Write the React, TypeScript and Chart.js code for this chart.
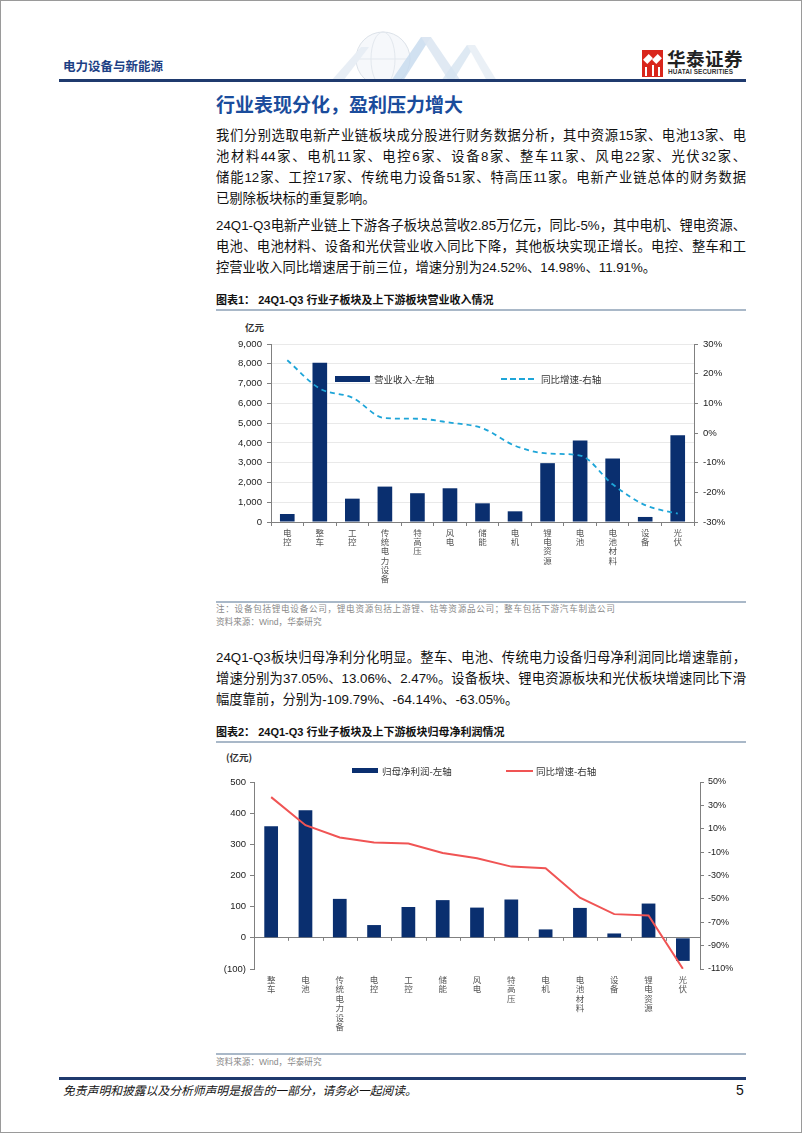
import React, { useEffect, useRef } from 'react';
import { Chart, registerables } from 'chart.js';

Chart.register(...registerables);

// ---------- Data: chart 1 (营业收入) ----------
const revCategories = ['电控', '整车', '工控', '传统电力设备', '特高压', '风电', '储能', '电机', '锂电资源', '电池', '电池材料', '设备', '光伏'];
const revValues = [405, 8050, 1180, 1790, 1455, 1705, 945, 540, 2975, 4120, 3210, 255, 4390];
const revGrowth = [24.52, 14.98, 11.91, 5.0, 4.8, 3.5, 1.6, -4.3, -6.9, -7.6, -17.3, -24.3, -27.2];
const revLeftTicks = [0, 1000, 2000, 3000, 4000, 5000, 6000, 7000, 8000, 9000];
const revRightTicks = [-30, -20, -10, 0, 10, 20, 30];
const revBarLabel = '营业收入-左轴';
const revLineLabel = '同比增速-右轴';

// ---------- Data: chart 2 (归母净利润) ----------
const profitCategories = ['整车', '电池', '传统电力设备', '电控', '工控', '储能', '风电', '特高压', '电机', '电池材料', '设备', '锂电资源', '光伏'];
const profitValues = [358, 409, 125, 41, 99, 121, 97, 123, 27, 96, 14, 110, -74];
const profitGrowth = [37.05, 13.06, 2.47, -1.8, -2.6, -10.7, -15.2, -22.4, -23.8, -49.0, -63.05, -64.14, -109.79];
const profitLeftTicks = [-100, 0, 100, 200, 300, 400, 500];
const profitRightTicks = [-110, -90, -70, -50, -30, -10, 10, 30, 50];
const profitBarLabel = '归母净利润-左轴';
const profitLineLabel = '同比增速-右轴';

const NAVY = '#0a2f6f';
const CYAN = '#1ea5d8';
const RED = '#f05454';
const AXIS = '#808080';
const LATIN = "'Liberation Sans', 'Noto Sans CJK SC', sans-serif";
const CJK = "'Noto Sans CJK SC', 'Liberation Sans', sans-serif";

const zeroTicksPlugin = {
  id: 'zeroTicks',
  beforeDatasetsDraw(chart: any) {
    const y = chart.scales.y.getPixelForValue(0);
    const { left, width } = chart.chartArea;
    const n = chart.data.labels.length;
    const ctx = chart.ctx;
    ctx.save();
    ctx.strokeStyle = AXIS;
    ctx.lineWidth = 1;
    for (let i = 0; i <= n; i++) {
      const x = Math.round(left + (i * width) / n) + 0.5;
      ctx.beginPath();
      ctx.moveTo(x, y);
      ctx.lineTo(x, y + 3);
      ctx.stroke();
    }
    ctx.restore();
  },
};

function RevenueChart() {
  const ref = useRef<HTMLCanvasElement>(null);
  useEffect(() => {
    const chart = new Chart(ref.current as HTMLCanvasElement, {
      type: 'bar',
      data: {
        labels: revCategories.map((c) => c.split('')),
        datasets: [
          {
            type: 'line',
            label: revLineLabel,
            data: revGrowth,
            yAxisID: 'y1',
            borderColor: CYAN,
            borderWidth: 1.8,
            borderDash: [5, 4],
            pointRadius: 0,
            tension: 0.4,
            cubicInterpolationMode: 'monotone',
            order: 0,
          } as any,
          {
            type: 'bar',
            label: revBarLabel,
            data: revValues,
            yAxisID: 'y',
            backgroundColor: NAVY,
            barPercentage: 0.45,
            categoryPercentage: 1,
            order: 1,
          },
        ],
      },
      options: {
        animation: false,
        responsive: false,
        maintainAspectRatio: false,
        layout: { padding: { top: 13, bottom: 0, left: 0, right: 0 } },
        plugins: { legend: { display: false }, tooltip: { enabled: false } },
        scales: {
          x: {
            type: 'category',
            offset: true,
            grid: { offset: true, drawOnChartArea: false, tickLength: 4, tickColor: AXIS },
            border: { color: AXIS },
            ticks: {
              autoSkip: false,
              maxRotation: 0,
              padding: 2,
              color: '#555',
              font: { family: CJK, size: 8.5, lineHeight: '9.3px' },
            },
            afterFit: (s: any) => { s.height = 74; },
          },
          y: {
            position: 'left',
            min: 0,
            max: 9000,
            afterBuildTicks: (s: any) => { s.ticks = revLeftTicks.map((v) => ({ value: v })); },
            grid: { color: '#e9e9e9', tickLength: 4, tickColor: AXIS },
            border: { color: AXIS },
            ticks: {
              padding: 5,
              color: '#222',
              font: { family: LATIN, size: 9.6 },
              callback: (v: any) => Number(v).toLocaleString('en-US'),
            },
            afterFit: (s: any) => { s.width = 55; },
          },
          y1: {
            position: 'right',
            min: -30,
            max: 30,
            afterBuildTicks: (s: any) => { s.ticks = revRightTicks.map((v) => ({ value: v })); },
            grid: { drawOnChartArea: false, tickLength: 4, tickColor: AXIS },
            border: { color: AXIS },
            ticks: {
              padding: 5,
              color: '#222',
              font: { family: LATIN, size: 9.6 },
              callback: (v: any) => `${v}%`,
            },
            afterFit: (s: any) => { s.width = 52; },
          },
        },
      } as any,
    });
    return () => chart.destroy();
  }, []);
  return <canvas ref={ref} width={530} height={265} style={{ display: 'block', width: 530, height: 265 }} />;
}

function ProfitChart() {
  const ref = useRef<HTMLCanvasElement>(null);
  useEffect(() => {
    const chart = new Chart(ref.current as HTMLCanvasElement, {
      type: 'bar',
      data: {
        labels: profitCategories.map((c) => c.split('')),
        datasets: [
          {
            type: 'line',
            label: profitLineLabel,
            data: profitGrowth,
            yAxisID: 'y1',
            borderColor: RED,
            borderWidth: 2,
            pointRadius: 0,
            tension: 0,
            order: 0,
          } as any,
          {
            type: 'bar',
            label: profitBarLabel,
            data: profitValues,
            yAxisID: 'y',
            backgroundColor: NAVY,
            barPercentage: 0.4,
            categoryPercentage: 1,
            order: 1,
          },
        ],
      },
      plugins: [zeroTicksPlugin],
      options: {
        animation: false,
        responsive: false,
        maintainAspectRatio: false,
        layout: { padding: { top: 10, bottom: 0, left: 0, right: 0 } },
        plugins: { legend: { display: false }, tooltip: { enabled: false } },
        scales: {
          x: {
            type: 'category',
            offset: true,
            grid: { display: false, drawTicks: false },
            border: { display: false },
            ticks: {
              autoSkip: false,
              maxRotation: 0,
              padding: 6,
              color: '#555',
              font: { family: CJK, size: 8.5, lineHeight: '9.5px' },
            },
            afterFit: (s: any) => { s.height = 72; },
          },
          y: {
            position: 'left',
            min: -100,
            max: 500,
            afterBuildTicks: (s: any) => { s.ticks = profitLeftTicks.map((v) => ({ value: v })); },
            grid: {
              color: (c: any) => (c.tick && c.tick.value === 0 ? AXIS : 'rgba(0,0,0,0)'),
              tickLength: 4,
              tickColor: AXIS,
            },
            border: { color: AXIS },
            ticks: {
              padding: 4,
              color: '#222',
              font: { family: LATIN, size: 9.5 },
              callback: (v: any) => (Number(v) < 0 ? `(${Math.abs(Number(v))})` : `${v}`),
            },
            afterFit: (s: any) => { s.width = 38; },
          },
          y1: {
            position: 'right',
            min: -110,
            max: 50,
            afterBuildTicks: (s: any) => { s.ticks = profitRightTicks.map((v) => ({ value: v })); },
            grid: { drawOnChartArea: false, tickLength: 4, tickColor: AXIS },
            border: { color: AXIS },
            ticks: {
              padding: 4,
              color: '#222',
              font: { family: LATIN, size: 9 },
              callback: (v: any) => `${v}%`,
            },
            afterFit: (s: any) => { s.width = 46; },
          },
        },
      } as any,
    });
    return () => chart.destroy();
  }, []);
  return <canvas ref={ref} width={530} height={269} style={{ display: 'block', width: 530, height: 269 }} />;
}

// ---------- page text ----------
const para1 = [
  '我们分别选取电新产业链板块成分股进行财务数据分析，其中资源15家、电池13家、电',
  '池材料44家、电机11家、电控6家、设备8家、整车11家、风电22家、光伏32家、',
  '储能12家、工控17家、传统电力设备51家、特高压11家。电新产业链总体的财务数据',
  '已剔除板块标的重复影响。',
];
const para2 = [
  '24Q1-Q3电新产业链上下游各子板块总营收2.85万亿元，同比-5%，其中电机、锂电资源、',
  '电池、电池材料、设备和光伏营业收入同比下降，其他板块实现正增长。电控、整车和工',
  '控营业收入同比增速居于前三位，增速分别为24.52%、14.98%、11.91%。',
];
const para3 = [
  '24Q1-Q3板块归母净利分化明显。整车、电池、传统电力设备归母净利润同比增速靠前，',
  '增速分别为37.05%、13.06%、2.47%。设备板块、锂电资源板块和光伏板块增速同比下滑',
  '幅度靠前，分别为-109.79%、-64.14%、-63.05%。',
];

const abs = (left: number, top: number, extra: any = {}) => ({ position: 'absolute' as const, left, top, ...extra });

function Para({ lines, firstCenter }: { lines: string[]; firstCenter: number }) {
  return (
    <>
      {lines.map((t, i) => {
        const last = i === lines.length - 1;
        return (
          <div
            key={i}
            style={abs(215, firstCenter + i * 21 - 10.5, {
              width: 530,
              height: 21,
              lineHeight: '21px',
              fontSize: 13.3,
              color: '#111',
              whiteSpace: 'nowrap',
              textAlign: last ? 'left' : 'justify',
              textAlignLast: last ? 'left' : 'justify',
            })}
          >
            {t}
          </div>
        );
      })}
    </>
  );
}

function Rule({ top, left = 215, width = 530, color = '#9fb0c4', h = 1 }: any) {
  return <div style={abs(left, top, { width, height: h, background: color })} />;
}

export default function App() {
  return (
    <div
      style={{
        position: 'absolute',
        left: 0,
        top: 0,
        width: 802,
        height: 1133,
        background: '#fff',
        boxSizing: 'border-box',
        border: '1px solid #9a9a9a',
        overflow: 'hidden',
        fontFamily: LATIN,
      }}
    >
      {/* header decoration */}
      <svg style={abs(290, 28)} width={240} height={52} viewBox="0 0 240 52">
        <circle cx={92} cy={30} r={27} fill="#f6f8fb" stroke="#dce2e9" strokeWidth={1} />
        <ellipse cx={92} cy={30} rx={12} ry={27} fill="none" stroke="#e3e8ee" strokeWidth={1} />
        <line x1={65} y1={30} x2={119} y2={30} stroke="#e3e8ee" strokeWidth={1} />
        <polygon points="40,52 70,18 78,18 52,52" fill="#e8eef5" />
        <polygon points="100,52 130,8 140,8 112,52" fill="#c6d9ee" opacity={0.8} />
        <polygon points="130,8 140,8 170,52 158,52" fill="#dde7f2" opacity={0.9} />
        <polygon points="150,52 176,16 184,16 162,52" fill="#d6e3f0" opacity={0.8} />
        <polygon points="176,16 184,16 206,52 196,52" fill="#eaf0f6" />
      </svg>

      <div style={abs(62, 56, { fontSize: 12.5, fontWeight: 700, color: '#1c3f85', fontFamily: CJK, lineHeight: '18px' })}>
        电力设备与新能源
      </div>

      {/* logo */}
      <div style={abs(641, 49, { width: 21, height: 27, background: '#d9261c' })}>
        <div style={abs(3, 5, { width: 6, height: 8, background: '#fff', transform: 'rotate(45deg)' })} />
        <div style={abs(12, 5, { width: 6, height: 8, background: '#fff', transform: 'rotate(45deg)' })} />
        <div style={abs(3, 17, { width: 2, height: 9, background: '#fff' })} />
        <div style={abs(9.5, 15, { width: 2, height: 11, background: '#fff' })} />
        <div style={abs(16, 17, { width: 2, height: 9, background: '#fff' })} />
      </div>
      <div style={abs(666, 45, { fontSize: 18.5, fontWeight: 700, color: '#222', fontFamily: CJK, lineHeight: '24px', letterSpacing: 0.5 })}>
        华泰证券
      </div>
      <div style={abs(667, 67, { fontSize: 6.4, fontWeight: 700, color: '#333', lineHeight: '8px', letterSpacing: 0.1 })}>
        HUATAI SECURITIES
      </div>
      <Rule top={78} left={58} width={687} color="#1f3a6e" h={2.5} />

      {/* section title */}
      <div style={abs(215, 90, { fontSize: 19, fontWeight: 700, color: '#1a4c9c', fontFamily: CJK, lineHeight: '26px' })}>
        行业表现分化，盈利压力增大
      </div>

      <Para lines={para1} firstCenter={134} />
      <Para lines={para2} firstCenter={224} />

      {/* chart 1 caption */}
      <div style={abs(215, 291, { fontSize: 11, fontWeight: 700, color: '#111', lineHeight: '16px', whiteSpace: 'nowrap' })}>
        图表1：&nbsp;24Q1-Q3 行业子板块及上下游板块营业收入情况
      </div>
      <Rule top={308} color="#a9b8c8" h={1.5} />

      <div style={abs(244, 319, { fontSize: 9.5, fontWeight: 700, color: '#333', fontFamily: CJK, lineHeight: '14px' })}>亿元</div>
      <div style={abs(215, 330)}>
        <RevenueChart />
      </div>
      {/* chart 1 legend */}
      <div style={abs(334, 375, { width: 35, height: 6, background: NAVY })} />
      <div style={abs(373, 371, { fontSize: 9.5, color: '#333', fontFamily: CJK, lineHeight: '14px' })}>{revBarLabel}</div>
      <div style={abs(500, 377, { width: 33, height: 0, borderTop: `2px dashed ${CYAN}` })} />
      <div style={abs(540, 371, { fontSize: 9.5, color: '#333', fontFamily: CJK, lineHeight: '14px' })}>{revLineLabel}</div>

      <Rule top={600} color="#a9b8c8" h={1.5} />
      <div style={abs(215, 601, { fontSize: 8.6, color: '#8a8a8a', fontFamily: CJK, lineHeight: '13px', letterSpacing: 0.7, whiteSpace: 'nowrap' })}>
        注：设备包括锂电设备公司，锂电资源包括上游锂、钴等资源品公司；整车包括下游汽车制造公司
      </div>
      <div style={abs(215, 615, { fontSize: 8.6, color: '#8a8a8a', lineHeight: '13px', whiteSpace: 'nowrap' })}>
        资料来源：Wind，华泰研究
      </div>

      <Para lines={para3} firstCenter={656} />

      {/* chart 2 caption */}
      <div style={abs(215, 723, { fontSize: 11, fontWeight: 700, color: '#111', lineHeight: '16px', whiteSpace: 'nowrap' })}>
        图表2：&nbsp;24Q1-Q3 行业子板块及上下游板块归母净利润情况
      </div>
      <Rule top={740} color="#a9b8c8" h={1.5} />

      <div style={abs(225, 749, { fontSize: 9.5, fontWeight: 700, color: '#333', fontFamily: CJK, lineHeight: '14px' })}>(亿元)</div>
      <div style={abs(215, 771)}>
        <ProfitChart />
      </div>
      {/* chart 2 legend */}
      <div style={abs(351, 767, { width: 26, height: 5, background: NAVY })} />
      <div style={abs(381, 763, { fontSize: 9.5, color: '#333', fontFamily: CJK, lineHeight: '14px' })}>{profitBarLabel}</div>
      <div style={abs(505, 769, { width: 27, height: 2, background: RED })} />
      <div style={abs(535, 763, { fontSize: 9.5, color: '#333', fontFamily: CJK, lineHeight: '14px' })}>{profitLineLabel}</div>

      <Rule top={1052} color="#a9b8c8" h={1.5} />
      <div style={abs(215, 1055, { fontSize: 8.6, color: '#8a8a8a', lineHeight: '13px', whiteSpace: 'nowrap' })}>
        资料来源：Wind，华泰研究
      </div>

      {/* footer */}
      <Rule top={1076} left={58} width={687} color="#1f3a6e" h={2.5} />
      <div style={abs(62, 1081, { fontSize: 11.8, fontStyle: 'italic', color: '#111', fontFamily: CJK, lineHeight: '16px', whiteSpace: 'nowrap' })}>
        免责声明和披露以及分析师声明是报告的一部分，请务必一起阅读。
      </div>
      <div style={abs(735, 1080, { fontSize: 14, color: '#111', lineHeight: '18px' })}>5</div>
    </div>
  );
}
